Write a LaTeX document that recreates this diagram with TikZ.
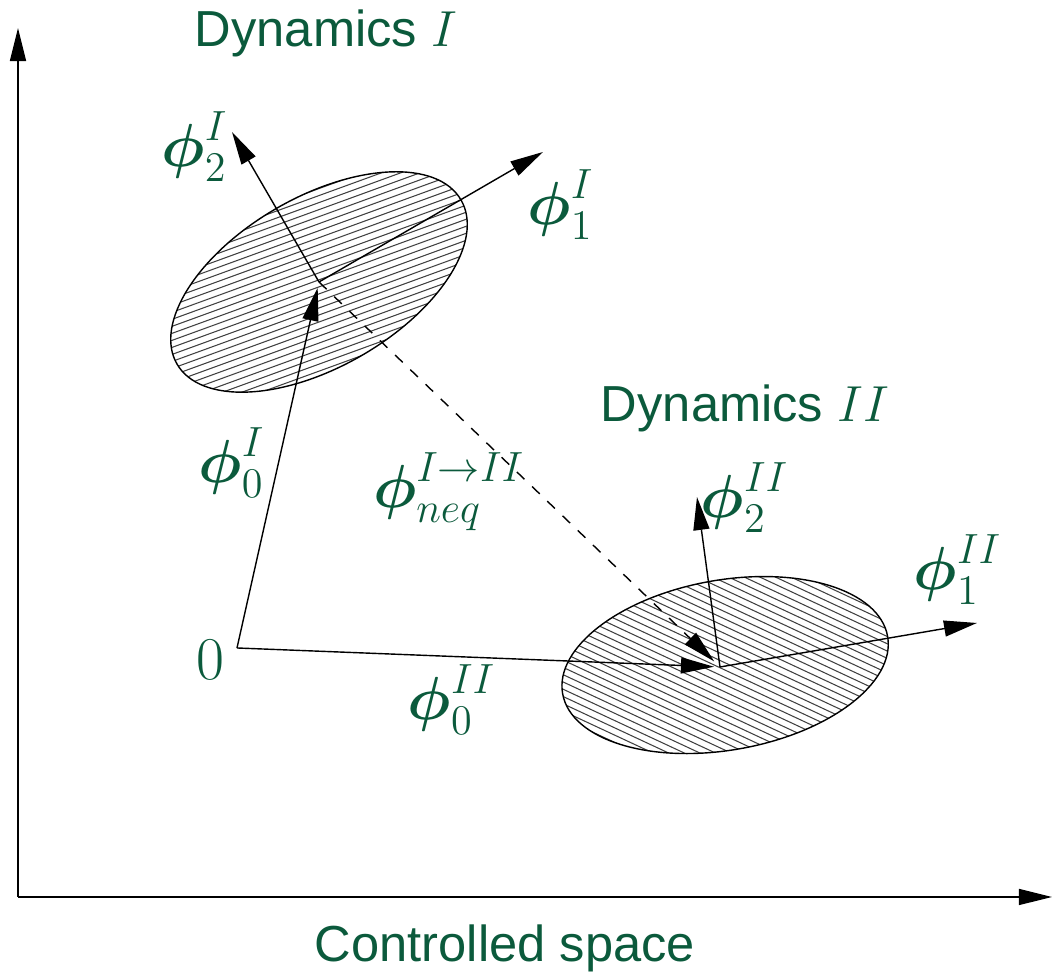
\documentclass[tikz,border=0pt]{standalone}
\usepackage{amsmath,amssymb}
\usepackage{fontspec}
\usepackage{xcolor}
\usepackage{tikz}
\usetikzlibrary{arrows.meta,positioning}
\newfontfamily\dynfont{Liberation Sans}
\definecolor{dyngreen}{HTML}{0B5A3C}
\newcommand{\bphi}{\boldsymbol{\phi}}
\tikzset{
  bigtip/.style={-{Triangle[length=3.3mm,width=1.6mm]}},
  hatchline/.style={line width=0.3pt,black!75},
  lbl/.style={text=dyngreen,font=\fontsize{16.5}{20}\selectfont,inner sep=0pt},
  dynlbl/.style={text=dyngreen,font=\Large\dynfont,inner sep=0pt}
}

\begin{document}
\begin{tikzpicture}[x=0.01cm,y=-0.01cm,thin]
  \useasboundingbox (0,0) rectangle (1056,977);
  % axes
  \coordinate (xo) at (18,897);
  \coordinate (ytip) at (18,28);
  \coordinate (xtip) at (1052,897);
  \draw[bigtip] (xo) -- (ytip);
  \draw[bigtip] (xo) -- (xtip);
  % origin and centres of the two dynamics
  \coordinate (O) at (237,648);
  \coordinate (cI) at (319,282);
  \coordinate (eII) at (725,665);
  \coordinate (cII) at (720,667);
  % hatched regions
  \begin{scope}
    \clip[rotate around={30:(cI)}] (cI) ellipse [x radius=164,y radius=85];
    \begin{scope}[shift={(cI)},rotate=20]
      \foreach \k in {-200,-193.4,...,200}
        \draw[hatchline] (-260,\k) -- (260,\k);
    \end{scope}
  \end{scope}
  \draw[rotate around={30:(cI)}] (cI) ellipse [x radius=164,y radius=85];
  \begin{scope}
    \clip[rotate around={10:(eII)}] (eII) ellipse [x radius=165,y radius=85];
    \begin{scope}[shift={(eII)},rotate=-25]
      \foreach \k in {-200,-193.4,...,200}
        \draw[hatchline] (-260,\k) -- (260,\k);
    \end{scope}
  \end{scope}
  \draw[rotate around={10:(eII)}] (eII) ellipse [x radius=165,y radius=85];
  % local axes
  \coordinate (p1I) at (543,152);
  \coordinate (p2I) at (232,132);
  \coordinate (p1II) at (977,623);
  \coordinate (p2II) at (697,497);
  \draw[bigtip] (cI) -- (p1I);
  \draw[bigtip] (cI) -- (p2I);
  \draw[bigtip] (cII) -- (p1II);
  \draw[bigtip] (cII) -- (p2II);
  % translations
  \draw[bigtip,shorten >=0.6mm] (O) -- (cI);
  \draw[bigtip,shorten >=0.6mm] (O) -- (cII);
  \draw[bigtip,dashed,shorten >=0.8mm] (cI) -- (cII);
  % labels
  \node[dynlbl] (dynI) at (326,33) {Dynamics $I$};
  \node[dynlbl] (dynII) at (745,408) {Dynamics $II$};
  \node[dynlbl] (ctrl) at (505,948) {Controlled space};
  \node[lbl] (zero) at (210,660) {$0$};
  \node[lbl] (l2I) at (195,147) {$\bphi_2^I$};
  \node[lbl] (l1I) at (561,205) {$\bphi_1^I$};
  \node[lbl] (l0I) at (232,463) {$\bphi_0^I$};
  \node[lbl] (lneq) at (449,492) {$\bphi_{neq}^{I\rightarrow II}$};
  \node[lbl] (l2II) at (745,498) {$\bphi_2^{II}$};
  \node[lbl] (l1II) at (958,570) {$\bphi_1^{II}$};
  \node[lbl] (l0II) at (452,700) {$\bphi_0^{II}$};
\end{tikzpicture}
\end{document}
